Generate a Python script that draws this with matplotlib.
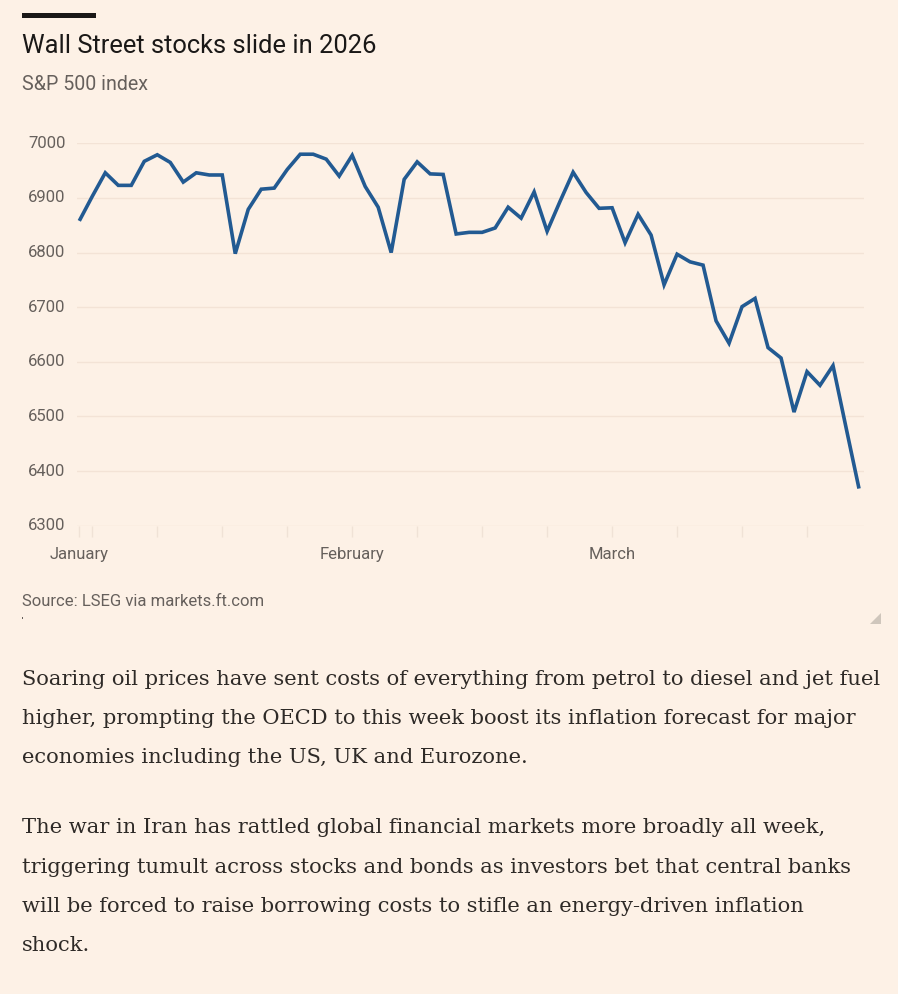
import numpy as np
import matplotlib
matplotlib.use("Agg")
import matplotlib.pyplot as plt
import matplotlib.transforms as mtransforms
from matplotlib.patches import Rectangle, Polygon

# ---------------- data ----------------
title = "Wall Street stocks slide in 2026"
subtitle = "S&P 500 index"
source = "Source: LSEG via markets.ft.com"

# S&P 500 closes, one per trading day
sp500 = [6858, 6903, 6946, 6923, 6923, 6967, 6979, 6965, 6929, 6946,
         6942, 6942, 6798, 6879, 6916, 6918, 6952, 6980, 6980, 6971,
         6940, 6978, 6921, 6883, 6800, 6934, 6966, 6944, 6943, 6834,
         6837, 6837, 6845, 6883, 6863, 6911, 6839, 6894, 6947, 6910,
         6881, 6882, 6818, 6870, 6832, 6741, 6797, 6783, 6777, 6675,
         6634, 6701, 6716, 6626, 6607, 6508, 6582, 6557, 6593, 6480,
         6368]
month_labels = ["January", "February", "March"]
month_pos = [0, 21, 41]          # trading-day index of month label
week_ticks = [0, 1, 6, 11, 16, 21, 26, 31, 36, 41, 46, 51, 56]
y_ticks = [6300, 6400, 6500, 6600, 6700, 6800, 6900, 7000]

para1 = ["Soaring oil prices have sent costs of everything from petrol to diesel and jet fuel",
         "higher, prompting the OECD to this week boost its inflation forecast for major",
         "economies including the US, UK and Eurozone."]
para2 = ["The war in Iran has rattled global financial markets more broadly all week,",
         "triggering tumult across stocks and bonds as investors bet that central banks",
         "will be forced to raise borrowing costs to stifle an energy-driven inflation",
         "shock."]

# ---------------- style ----------------
W, H = 898, 994
BG = "#FDF1E6"
INK = "#1A1817"
GREY = "#66605C"
BODY = "#2E2A27"
LINE = "#225A92"
SANS = ["Roboto", "DejaVu Sans"]
SERIF = ["DejaVu Serif"]

fig = plt.figure(figsize=(W / 100, H / 100), dpi=100, facecolor=BG)
renderer = fig.canvas.get_renderer()


def fx(x):
    return x / W


def fy(y):
    return 1 - y / H


def fit_size(texts, family, target_px, weight="normal"):
    probe = [fig.text(0, 0, t, fontsize=20, family=family, weight=weight) for t in texts]
    wmax = max(p.get_window_extent(renderer).width for p in probe)
    for p in probe:
        p.remove()
    return 20 * target_px / wmax


# top black bar
fig.patches.append(Rectangle((fx(22), fy(18)), fx(96) - fx(22), fy(13) - fy(18),
                             transform=fig.transFigure, color=INK, lw=0))

s_title = fit_size([title], SANS, 354)
fig.text(fx(22), fy(53), title, fontsize=s_title, family=SANS, color=INK,
         va="baseline", ha="left")
s_sub = fit_size([subtitle], SANS, 126)
fig.text(fx(22), fy(90), subtitle, fontsize=s_sub, family=SANS, color=GREY,
         va="baseline", ha="left")
s_src = fit_size([source], SANS, 241)
fig.text(fx(22), fy(606), source, fontsize=s_src, family=SANS, color=GREY,
         va="baseline", ha="left")

# ---------------- chart ----------------
x0, x1 = 77, 864
ytop, ybot = 143.3, 525.7
ax = fig.add_axes([fx(x0), fy(ybot), fx(x1) - fx(x0), (ybot - ytop) / H])
ax.set_facecolor("none")
xs = np.arange(len(sp500))
px_per = (859 - 79.3) / 60
ax.set_xlim(-(79.3 - x0) / px_per, 60 + (x1 - 859) / px_per)
ax.set_ylim(6300, 7000)

ax.plot(xs, sp500, color=LINE, lw=2.6, solid_joinstyle="miter",
        solid_capstyle="butt", clip_on=False, zorder=3)

for s in ax.spines.values():
    s.set_visible(False)

ax.set_yticks(y_ticks)
ax.yaxis.grid(True, color="#F3E3D6", lw=1.0)
ax.tick_params(axis="y", length=0, labelleft=False)
ytrans = mtransforms.blended_transform_factory(fig.transFigure, ax.transData)
for v in y_ticks:
    ax.text(fx(28), v, str(v), transform=ytrans, ha="left", va="center",
            fontsize=12, family=SANS, color=GREY, clip_on=False)

ax.set_xticks(month_pos)
ax.set_xticklabels(month_labels)
ax.set_xticks([t for t in week_ticks if t not in month_pos], minor=True)
ax.tick_params(axis="x", which="both", length=8, width=1, color="#F0E2D6",
               direction="out")
ax.tick_params(axis="x", which="major", pad=7, labelsize=12, labelcolor=GREY)
for lab in ax.get_xticklabels():
    lab.set_family(SANS)

# resize handle
fig.patches.append(Polygon([(fx(881), fy(624)), (fx(881), fy(613)), (fx(870), fy(624))],
                           closed=True, transform=fig.transFigure,
                           color="#CFC6BC", lw=0))
fig.patches.append(Rectangle((fx(21.5), fy(618.5)), 1.2 / W, 1.2 / H,
                             transform=fig.transFigure, color=GREY, lw=0))

# ---------------- body text ----------------
s_body = fit_size(para1 + para2, SERIF, 856)
base1 = [685, 724, 763]
base2 = [833, 873, 912, 951]
for t, b in zip(para1, base1):
    fig.text(fx(22), fy(b), t, fontsize=s_body, family=SERIF, color=BODY,
             va="baseline", ha="left")
for t, b in zip(para2, base2):
    fig.text(fx(22), fy(b), t, fontsize=s_body, family=SERIF, color=BODY,
             va="baseline", ha="left")

fig.savefig("out.png", dpi=100, facecolor=BG)
